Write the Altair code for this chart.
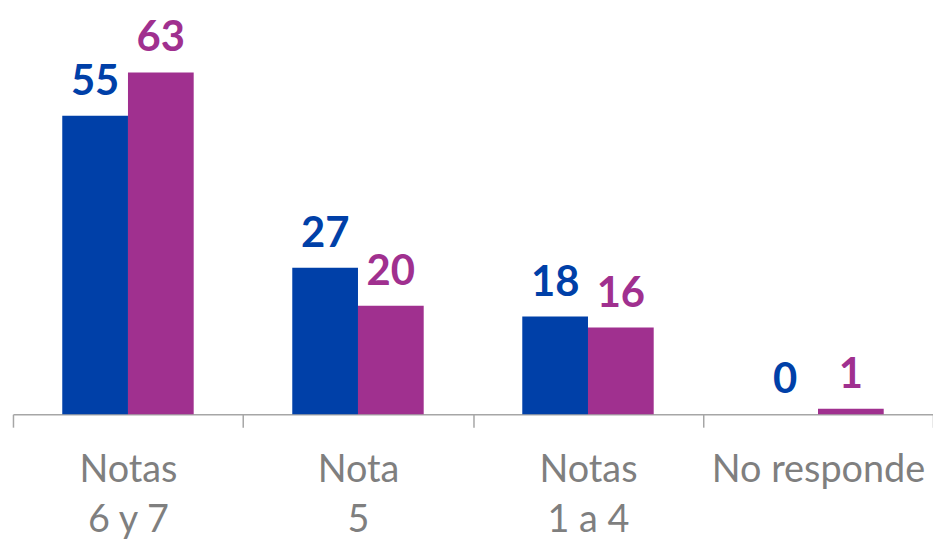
import altair as alt
import pandas as pd

categories = ["Notas|6 y 7", "Nota|5", "Notas|1 a 4", "No responde"]
series = ["Serie 1", "Serie 2"]
serie1_values = [55, 27, 18, 0]
serie2_values = [63, 20, 16, 1]
colors = ["#0040A8", "#A0308F"]

rows = []
for c, v1, v2 in zip(categories, serie1_values, serie2_values):
    rows.append({"cat": c, "serie": series[0], "valor": v1})
    rows.append({"cat": c, "serie": series[1], "valor": v2})
df = pd.DataFrame(rows)

x = alt.X(
    "cat:N",
    sort=categories,
    scale=alt.Scale(paddingInner=0, paddingOuter=0),
    axis=alt.Axis(
        title=None,
        labelExpr="split(datum.label, '|')",
        labelAngle=0,
        labelFont="Lato",
        labelFontSize=38,
        labelColor="#7F7F7F",
        labelLineHeight=50,
        labelBaseline="top",
        labelPadding=25,
        labelLimit=0,
        tickBand="extent",
        tickSize=13,
        tickColor="#A6A6A6",
        tickWidth=1.5,
        domainColor="#A6A6A6",
        domainWidth=1.5,
    ),
)
xo = alt.XOffset("serie:N", sort=series, scale=alt.Scale(paddingOuter=0.75, paddingInner=0))
y = alt.Y("valor:Q", scale=alt.Scale(domain=[0, 74.6], nice=False), axis=None)
color = alt.Color("serie:N", sort=series, scale=alt.Scale(domain=series, range=colors), legend=None)

bars = alt.Chart(df).mark_bar().encode(x=x, xOffset=xo, y=y, color=color)
labels = alt.Chart(df).mark_text(
    dy=-21, baseline="alphabetic", font="Lato", fontWeight="bold", fontSize=42
).encode(x=x, xOffset=xo, y=y, color=color, text="valor:Q")

chart = (
    alt.layer(bars, labels)
    .properties(
        width=925,
        height=407,
        autosize=alt.AutoSizeParams(type="none"),
        padding={"left": 5, "top": 0, "right": 0, "bottom": 128},
        background="white",
    )
    .configure_view(stroke=None)
)

chart.save("out.html", embed_options={"renderer": "svg", "actions": False})
